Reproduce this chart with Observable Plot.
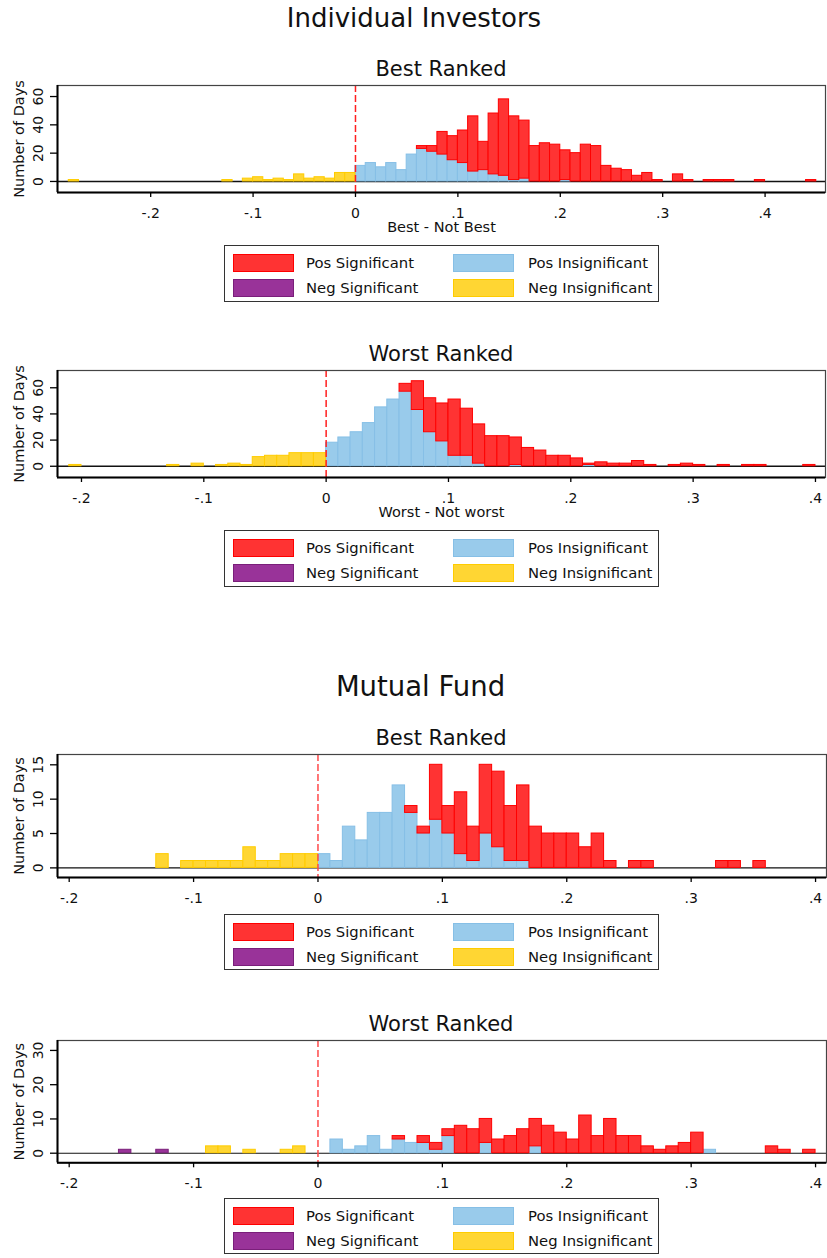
<!DOCTYPE html>
<html>
<head>
<meta charset="utf-8">
<script src="https://cdn.jsdelivr.net/npm/d3@7"></script>
<script src="https://cdn.jsdelivr.net/npm/@observablehq/plot@0.6"></script>
<style>
  html, body { margin: 0; padding: 0; background: #fff; }
  #root { position: relative; width: 827px; height: 1258px; font-family: "DejaVu Sans", sans-serif; color: #111; overflow: hidden; }
  .t { position: absolute; white-space: nowrap; transform: translate(-50%, -50%); line-height: 1; }
  .legend { position: absolute; border: 1px solid #333; box-sizing: border-box; background: #fff; }
  .sw { position: absolute; box-sizing: border-box; }
  .lt { position: absolute; white-space: nowrap; transform: translateY(-50%); line-height: 1; }
  .panel { position: absolute; left: 0; }
</style>
</head>
<body>
<div id="root"></div>
<script>
// ---------------- DATA ----------------
// Bins are 0.01 wide; each pair is [lower edge in hundredths, number of days]
const xTicks = [-0.2, -0.1, 0, 0.1, 0.2, 0.3, 0.4];
const xTickLabels = ["-.2", "-.1", "0", ".1", ".2", ".3", ".4"];
const seriesNames = ["Pos Significant", "Pos Insignificant", "Neg Significant", "Neg Insignificant"];
const seriesFill = ["#ff3333", "#99cbeb", "#993399", "#ffd633"];
const seriesStroke = ["#ff0000", "#86bfe6", "#7a1f7a", "#ffcc00"];

// Individual Investors - Best Ranked
const indBestNegSig = [];
const indBestNegInsig = [[-28,1],[-13,1],[-11,2],[-10,3],[-9,1],[-8,2],[-7,1],[-6,5],[-5,2],[-4,3],[-3,2],[-2,6],[-1,6]];
const indBestPosInsig = [[0,11],[1,13],[2,10],[3,13],[4,8],[5,19],[6,23],[7,21],[8,19],[9,15],[10,13],[11,7],[12,8],[13,5],[14,4],[15,1],[16,2],[20,1]];
const indBestPosSig = [[6,2],[7,4],[8,16],[9,17],[10,23],[11,39],[12,20],[13,43],[14,54],[15,45],[16,41],[17,25],[18,27],[19,26],[20,21],[21,20],[22,26],[23,25],[24,11],[25,9],[26,8],[27,4],[28,6],[29,1],[31,5],[32,1],[34,1],[35,1],[36,1],[39,1],[44,1]];

// Individual Investors - Worst Ranked
const indWorstNegSig = [];
const indWorstNegInsig = [[-21,1],[-13,1],[-11,2],[-9,1],[-8,2],[-7,1],[-6,7],[-5,8],[-4,8],[-3,10],[-2,10],[-1,10]];
const indWorstPosInsig = [[0,18],[1,22],[2,26],[3,33],[4,45],[5,51],[6,57],[7,43],[8,26],[9,19],[10,8],[11,8],[12,2],[15,1],[21,1]];
const indWorstPosSig = [[6,6],[7,22],[8,26],[9,29],[10,43],[11,36],[12,30],[13,23],[14,23],[15,21],[16,14],[17,12],[18,8],[19,8],[20,6],[21,1],[22,3],[23,2],[24,2],[25,4],[26,1],[28,1],[29,2],[30,1],[32,1],[34,1],[35,1],[39,1]];

// Mutual Fund - Best Ranked
const mfBestNegSig = [];
const mfBestNegInsig = [[-13,2],[-11,1],[-10,1],[-9,1],[-8,1],[-7,1],[-6,3],[-5,1],[-4,1],[-3,2],[-2,2],[-1,2]];
const mfBestPosInsig = [[0,2],[1,1],[2,6],[3,4],[4,8],[5,8],[6,12],[7,8],[8,5],[9,7],[10,5],[11,2],[12,1],[13,5],[14,3],[15,1],[16,1]];
const mfBestPosSig = [[7,1],[8,1],[9,8],[10,4],[11,9],[12,5],[13,10],[14,11],[15,8],[16,11],[17,6],[18,5],[19,5],[20,5],[21,3],[22,5],[23,1],[25,1],[26,1],[32,1],[33,1],[35,1]];

// Mutual Fund - Worst Ranked
const mfWorstNegSig = [[-16,1],[-13,1]];
const mfWorstNegInsig = [[-9,2],[-8,2],[-6,1],[-3,1],[-2,2]];
const mfWorstPosInsig = [[1,4],[2,1],[3,2],[4,5],[5,1],[6,4],[7,3],[8,3],[9,1],[10,5],[13,3],[17,2],[31,1]];
const mfWorstPosSig = [[6,1],[8,2],[9,2],[10,2],[11,8],[12,7],[13,7],[14,4],[15,5],[16,7],[17,8],[18,8],[19,6],[20,4],[21,11],[22,5],[23,10],[24,5],[25,5],[26,2],[27,1],[28,2],[29,3],[30,6],[36,2],[37,1],[39,1]];

// ---------------- LAYOUT HELPERS ----------------
const root = document.getElementById("root");
const FONT = "DejaVu Sans";

function addText(txt, x, y, size) {
  const d = document.createElement("div");
  d.className = "t";
  d.style.left = x + "px";
  d.style.top = y + "px";
  d.style.fontSize = size + "px";
  d.textContent = txt;
  root.appendChild(d);
}

function addLegend(top, height) {
  const box = document.createElement("div");
  box.className = "legend";
  box.style.left = "224px";
  box.style.top = top + "px";
  box.style.width = "435px";
  box.style.height = height + "px";
  [0, 1, 2, 3].forEach((s, k) => {
    const col = k % 2, row = Math.floor(k / 2);
    const sw = document.createElement("div");
    sw.className = "sw";
    sw.style.left = (8 + col * 220) + "px";
    sw.style.top = (8 + row * 25) + "px";
    sw.style.width = "61px";
    sw.style.height = "18px";
    sw.style.background = seriesFill[s];
    sw.style.border = "1px solid " + seriesStroke[s];
    box.appendChild(sw);
    const lt = document.createElement("div");
    lt.className = "lt";
    lt.style.left = (81 + col * 222) + "px";
    lt.style.top = (17 + row * 25) + "px";
    lt.style.fontSize = "14.8px";
    lt.textContent = seriesNames[s];
    box.appendChild(lt);
  });
  root.appendChild(box);
}

function panel(cfg) {
  const blueBase = new Map(cfg.posInsig);
  const rowsFor = (pairs, base) => pairs.map(([b, n]) => {
    const y1 = base ? (base.get(b) || 0) : 0;
    return {b, y1, y2: y1 + n};
  });
  const bar = (rows, s) => Plot.rect(rows, {
    x1: d => d.b / 100, x2: d => (d.b + 1) / 100, y1: "y1", y2: "y2",
    fill: seriesFill[s], stroke: seriesStroke[s], strokeWidth: 1
  });
  const marks = [
    Plot.ruleY([0], {stroke: "#111", strokeWidth: cfg.zeroW}),
    bar(rowsFor(cfg.posInsig), 1),
    bar(rowsFor(cfg.posSig, blueBase), 0),
    bar(rowsFor(cfg.negInsig), 3),
    bar(rowsFor(cfg.negSig), 2),
    Plot.ruleX([0], {stroke: cfg.dashColor, strokeWidth: 1.5, strokeDasharray: "7,3"}),
    Plot.frame({stroke: "#444", strokeWidth: 1.2}),
    Plot.ruleX([cfg.xDomain[0]], {stroke: "#000", strokeWidth: 2}),
    Plot.ruleY([cfg.yDomain[0]], {stroke: "#000", strokeWidth: 2}),
    Plot.axisX(xTicks, {tickSize: 5, tickFormat: () => "", strokeWidth: 1.3}),
    Plot.axisY(cfg.yTicks, {tickSize: 7, tickFormat: () => "", strokeWidth: 1.3}),
    Plot.text(xTicks, {x: d => d, text: (d, i) => xTickLabels[i], frameAnchor: "bottom", dy: 21, lineAnchor: "middle", textAnchor: "middle", fontSize: 14, fill: "#111"}),
    Plot.text(cfg.yTicks, {y: d => d, text: d => String(d), frameAnchor: "left", dx: -19, rotate: -90, lineAnchor: "middle", textAnchor: "middle", fontSize: 14, fill: "#111"}),
    Plot.text(["Number of Days"], {text: d => d, frameAnchor: "left", dx: -38, rotate: -90, lineAnchor: "middle", textAnchor: "middle", fontSize: 14.5, fill: "#111"})
  ];
  if (cfg.xTitle) {
    marks.push(Plot.text([cfg.xTitle], {text: d => d, frameAnchor: "bottom", dy: 35, lineAnchor: "middle", textAnchor: "middle", fontSize: 14.5, fill: "#111"}));
  }
  const fig = Plot.plot({
    width: 827,
    height: cfg.height,
    marginTop: 5,
    marginLeft: 57,
    marginRight: cfg.marginRight,
    marginBottom: cfg.marginBottom,
    x: {domain: cfg.xDomain},
    y: {domain: cfg.yDomain},
    style: {fontFamily: FONT, fontSize: "13px", color: "#000", background: "transparent", overflow: "visible"},
    marks
  });
  fig.classList.add("panel");
  fig.style.position = "absolute";
  fig.style.left = "0px";
  fig.style.top = cfg.top + "px";
  root.appendChild(fig);
}

// ---------------- BUILD ----------------
addText("Individual Investors", 414, 18, 26);
addText("Best Ranked", 441, 69, 21);
panel({top: 80, height: 160, marginBottom: 48, marginRight: 2,
  xDomain: [-0.291, 0.459], yDomain: [-7.8, 67.8], yTicks: [0, 20, 40, 60],
  negSig: indBestNegSig, negInsig: indBestNegInsig, posInsig: indBestPosInsig, posSig: indBestPosSig,
  xTitle: "Best - Not Best", zeroW: 1.5, dashColor: "#ff2020"});
addLegend(245, 57);

addText("Worst Ranked", 441, 354, 21);
panel({top: 365, height: 160, marginBottom: 48, marginRight: 2,
  xDomain: [-0.2196, 0.4082], yDomain: [-8.6, 73.2], yTicks: [0, 20, 40, 60],
  negSig: indWorstNegSig, negInsig: indWorstNegInsig, posInsig: indWorstPosInsig, posSig: indWorstPosSig,
  xTitle: "Worst - Not worst", zeroW: 1.5, dashColor: "#ff2020"});
addLegend(530, 57);

addText("Mutual Fund", 420.5, 687, 27.5);
addText("Best Ranked", 441, 738, 21);
panel({top: 749, height: 160, marginBottom: 32, marginRight: 1,
  xDomain: [-0.2094, 0.4088], yDomain: [-1.4, 16.5], yTicks: [0, 5, 10, 15],
  negSig: mfBestNegSig, negInsig: mfBestNegInsig, posInsig: mfBestPosInsig, posSig: mfBestPosSig,
  xTitle: null, zeroW: 1.1, dashColor: "#ff4a4a"});
addLegend(914, 56);

addText("Worst Ranked", 441, 1024, 21);
panel({top: 1035, height: 158, marginBottom: 30.7, marginRight: 1,
  xDomain: [-0.2094, 0.4088], yDomain: [-2.8, 32.9], yTicks: [0, 10, 20, 30],
  negSig: mfWorstNegSig, negInsig: mfWorstNegInsig, posInsig: mfWorstPosInsig, posSig: mfWorstPosSig,
  xTitle: null, zeroW: 1.1, dashColor: "#ff4a4a"});
addLegend(1198, 56);
</script>
</body>
</html>
